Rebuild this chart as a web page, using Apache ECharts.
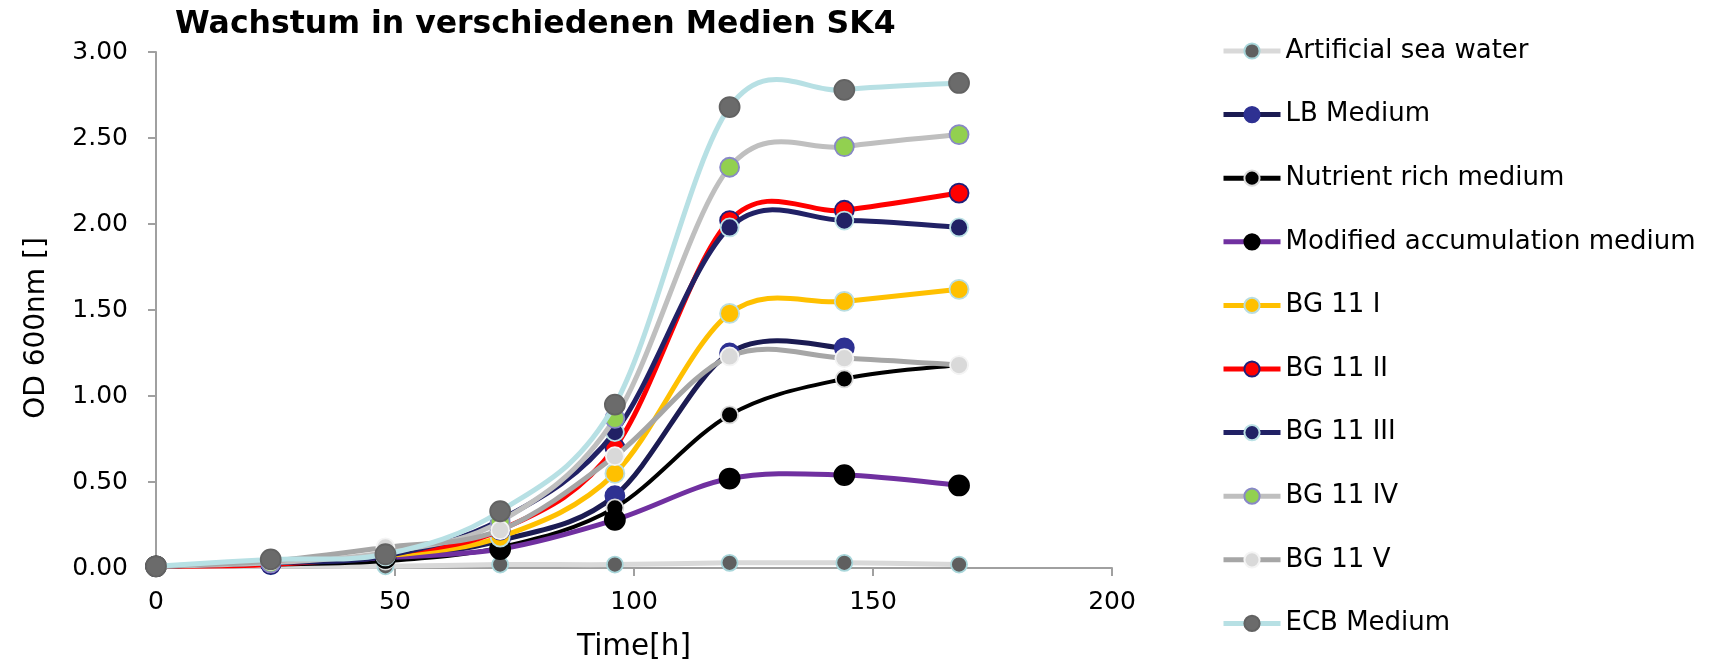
<!DOCTYPE html>
<html>
<head>
<meta charset="utf-8">
<script src="https://cdn.jsdelivr.net/npm/echarts@6/dist/echarts.min.js"></script>
<style>
  html, body { margin: 0; padding: 0; background: #ffffff; }
  #chart { width: 1717px; height: 663px; }
</style>
</head>
<body>
<div id="chart"></div>
<script>
// Sampling times in hours
const hours = [0, 24, 48, 72, 96, 120, 144, 168];

// OD 600nm per medium
const artificialSeaWater = [0.01, 0.01, 0.01, 0.02, 0.02, 0.03, 0.03, 0.02];
const lbMedium           = [0.01, 0.03, 0.06, 0.16, 0.42, 1.25, 1.28, null];
const nutrientRich       = [0.01, 0.02, 0.04, 0.12, 0.35, 0.89, 1.10, 1.18];
const modifiedAccum      = [0.01, 0.03, 0.06, 0.11, 0.28, 0.52, 0.54, 0.48];
const bg11I              = [0.01, 0.03, 0.07, 0.18, 0.55, 1.48, 1.55, 1.62];
const bg11II             = [0.01, 0.02, 0.08, 0.22, 0.70, 2.02, 2.08, 2.18];
const bg11III            = [0.01, 0.03, 0.07, 0.28, 0.79, 1.98, 2.02, 1.98];
const bg11IV             = [0.01, 0.03, 0.09, 0.27, 0.87, 2.33, 2.45, 2.52];
const bg11V              = [0.01, 0.04, 0.12, 0.22, 0.65, 1.23, 1.22, 1.18];
const ecbMedium          = [0.01, 0.05, 0.08, 0.33, 0.95, 2.68, 2.78, 2.82];

const seriesNames = [
  'Artificial sea water', 'LB Medium', 'Nutrient rich medium',
  'Modified accumulation medium', 'BG 11 I', 'BG 11 II', 'BG 11 III',
  'BG 11 IV', 'BG 11 V', 'ECB Medium'
];
const seriesValues = [
  artificialSeaWater, lbMedium, nutrientRich, modifiedAccum, bg11I,
  bg11II, bg11III, bg11IV, bg11V, ecbMedium
];

// line colour, marker fill, marker border, marker size, line width
const styles = [
  { line: '#D9D9D9', fill: '#5F5F5F', border: '#A8D6DA', size: 16, width: 5 },
  { line: '#1B1B52', fill: '#2E3192', border: '#2E3192', size: 19, width: 5 },
  { line: '#000000', fill: '#000000', border: '#DADADA', size: 17, width: 4 },
  { line: '#7030A0', fill: '#000000', border: '#000000', size: 20, width: 5 },
  { line: '#FFC000', fill: '#FFC000', border: '#B9DDE0', size: 19, width: 5 },
  { line: '#FF0000', fill: '#FF0000', border: '#1F1F7A', size: 19, width: 5 },
  { line: '#212165', fill: '#212165', border: '#BCE2E6', size: 18, width: 5 },
  { line: '#BFBFBF', fill: '#92D050', border: '#8888C6', size: 19, width: 5 },
  { line: '#A6A6A6', fill: '#D9D9D9', border: '#F4F4F4', size: 18, width: 5 },
  { line: '#B7E0E4', fill: '#6B6B6B', border: '#626262', size: 20, width: 5 }
];

const FONT = '"DejaVu Sans", Verdana, sans-serif';

// Smoothed curve through the data points (cubic Bezier, Catmull-Rom tangents),
// positioned through the cartesian axes via api.coord.
function curveRenderer(values, style) {
  return function (params, api) {
    if (params.dataIndex !== 0) return null;
    const pts = [];
    values.forEach((v, k) => { if (v != null) pts.push(api.coord([hours[k], v])); });
    const children = [];
    for (let k = 0; k < pts.length - 1; k++) {
      const p0 = pts[Math.max(k - 1, 0)];
      const p1 = pts[k];
      const p2 = pts[k + 1];
      const p3 = pts[Math.min(k + 2, pts.length - 1)];
      children.push({
        type: 'bezierCurve',
        shape: {
          x1: p1[0], y1: p1[1],
          cpx1: p1[0] + (p2[0] - p0[0]) / 6, cpy1: p1[1] + (p2[1] - p0[1]) / 6,
          cpx2: p2[0] - (p3[0] - p1[0]) / 6, cpy2: p2[1] - (p3[1] - p1[1]) / 6,
          x2: p2[0], y2: p2[1]
        },
        style: { stroke: style.line, lineWidth: style.width, fill: null, lineCap: 'round' }
      });
    }
    return { type: 'group', children: children };
  };
}

const series = [];
seriesNames.forEach((name, i) => {
  const pairs = hours.map((h, k) => [h, seriesValues[i][k]]);
  // smoothed line
  series.push({
    name: name + ' curve',
    type: 'custom',
    coordinateSystem: 'cartesian2d',
    silent: true,
    z: 10 + 2 * i,
    encode: { x: 0, y: 1 },
    data: pairs,
    renderItem: curveRenderer(seriesValues[i], styles[i])
  });
  // markers (the connecting line is drawn by the curve above)
  series.push({
    name: name,
    type: 'line',
    z: 11 + 2 * i,
    symbol: 'circle',
    symbolSize: styles[i].size,
    showSymbol: true,
    lineStyle: { color: styles[i].line, width: styles[i].width, opacity: 0 },
    itemStyle: { color: styles[i].fill, borderColor: styles[i].border, borderWidth: 1.8 },
    emphasis: { disabled: true },
    data: pairs
  });
});

const chart = echarts.init(document.getElementById('chart'), null, { renderer: 'canvas' });
chart.setOption({
  animation: false,
  backgroundColor: '#ffffff',
  title: {
    text: 'Wachstum in verschiedenen Medien SK4',
    left: 175,
    top: 9,
    padding: 0,
    textStyle: { fontFamily: FONT, fontSize: 31.5, fontWeight: 'bold', color: '#000000' }
  },
  legend: {
    orient: 'vertical',
    left: 1221,
    top: 36,
    padding: 0,
    itemWidth: 57,
    itemHeight: 19,
    itemGap: 33.6,
    lineStyle: { width: 5, opacity: 1 },
    textStyle: { fontFamily: FONT, fontSize: 26, color: '#000000', lineHeight: 30 },
    data: seriesNames
  },
  grid: { left: 156, right: 605, top: 52, bottom: 95, containLabel: false, outerBoundsMode: 'none' },
  xAxis: {
    type: 'value',
    min: 0,
    max: 200,
    interval: 50,
    name: 'Time[h]',
    nameLocation: 'middle',
    nameGap: 64,
    nameTextStyle: { fontFamily: FONT, fontSize: 29.5, color: '#000000' },
    axisLine: { show: true, lineStyle: { color: '#A0A0A0', width: 2 } },
    axisTick: { show: true, length: 8, inside: false, lineStyle: { color: '#A0A0A0', width: 2 } },
    axisLabel: { fontFamily: FONT, fontSize: 25, color: '#000000', margin: 22 },
    splitLine: { show: false }
  },
  yAxis: {
    type: 'value',
    min: 0,
    max: 3,
    interval: 0.5,
    name: 'OD 600nm []',
    nameLocation: 'middle',
    nameGap: 105,
    nameTextStyle: { fontFamily: FONT, fontSize: 28, color: '#000000', padding: [0, 36, 0, 0] },
    axisLine: { show: true, lineStyle: { color: '#A0A0A0', width: 2 } },
    axisTick: { show: true, length: 8, inside: false, lineStyle: { color: '#A0A0A0', width: 2 } },
    axisLabel: {
      fontFamily: FONT, fontSize: 25, color: '#000000', margin: 28,
      formatter: v => v.toFixed(2)
    },
    splitLine: { show: false }
  },
  series: series
});
</script>
</body>
</html>
